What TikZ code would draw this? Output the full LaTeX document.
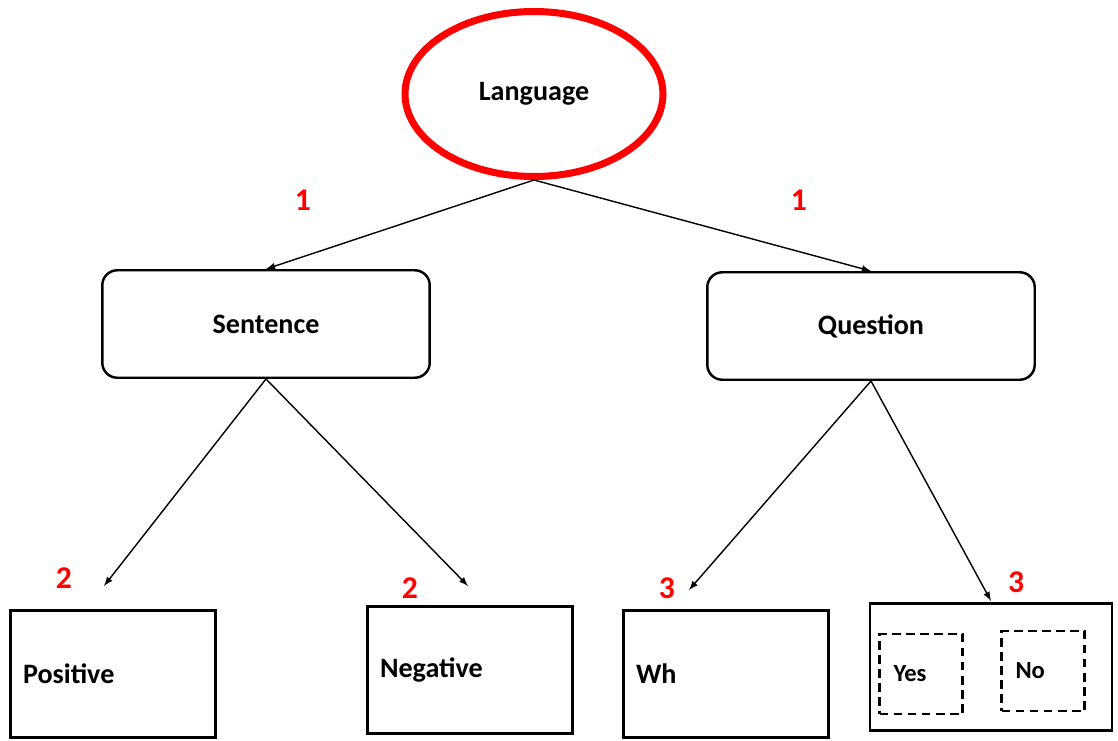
\documentclass[tikz,border=0pt]{standalone}
\usepackage{fontspec}
\setmainfont{Carlito}
\usetikzlibrary{arrows}
\usetikzlibrary{shapes.geometric}

\begin{document}
\begin{tikzpicture}[x=0.02cm,y=-0.02cm,
    every node/.style={font=\bfseries\fontsize{16}{19}\selectfont},
    root/.style={ellipse,draw=red,line width=4pt,minimum width=5.16cm,minimum height=3.3cm},
    branch/.style={rectangle,rounded corners=0.3cm,draw,line width=1.4pt,minimum width=6.55cm,minimum height=2.15cm},
    leaf/.style={rectangle,draw,line width=1.6pt,minimum width=4.1cm,minimum height=2.55cm,inner xsep=0.25cm,text width=3.6cm,align=left},
    choice/.style={rectangle,draw,dash pattern=on 5pt off 3pt,line width=1.4pt,minimum width=1.66cm,minimum height=1.6cm,inner xsep=0.28cm,text width=1.1cm,align=left,font=\bfseries\fontsize{14}{17}\selectfont},
    num/.style={text=red,font=\bfseries\fontsize{18}{21}\selectfont},
    edge/.style={-latex,line width=0.8pt}]
  \useasboundingbox (0,0) rectangle (1118,740);
  \node[root] (lang) at (534,94) {Language};
  \node[branch] (sent) at (266,324) {Sentence};
  \node[branch] (ques) at (871,326) {Question};
  \node[leaf] (pos) at (113,674) {Positive};
  \node[leaf] (neg) at (470,670) {Negative};
  \node[leaf] (wh) at (726,674) {Wh};
  \node[leaf,minimum width=4.84cm,text width=4.34cm] (yesno) at (991,667) {};
  \node[choice] (yes) at (921,674) {Yes};
  \node[choice] (no) at (1043,671) {No};
  % free ends of the lower arrows
  \coordinate (posend) at (104,586);
  \coordinate (negend) at (468,586);
  \coordinate (whend) at (689,590);
  \coordinate (ynend) at (991,601);
  \draw[edge] (lang.south) -- (sent.north);
  \draw[edge] (lang.south) -- (ques.north);
  \draw[edge] (sent.south) -- (posend);
  \draw[edge] (sent.south) -- (negend);
  \draw[edge] (ques.south) -- (whend);
  \draw[edge] (ques.south) -- (ynend);
  % level numbers
  \node[num] (numa) at (303,200) {1};
  \node[num] (numb) at (799,200) {1};
  \node[num] (numc) at (64,578) {2};
  \node[num] (numd) at (410,588) {2};
  \node[num] (nume) at (667,588) {3};
  \node[num] (numf) at (1016,582) {3};
\end{tikzpicture}
\end{document}
